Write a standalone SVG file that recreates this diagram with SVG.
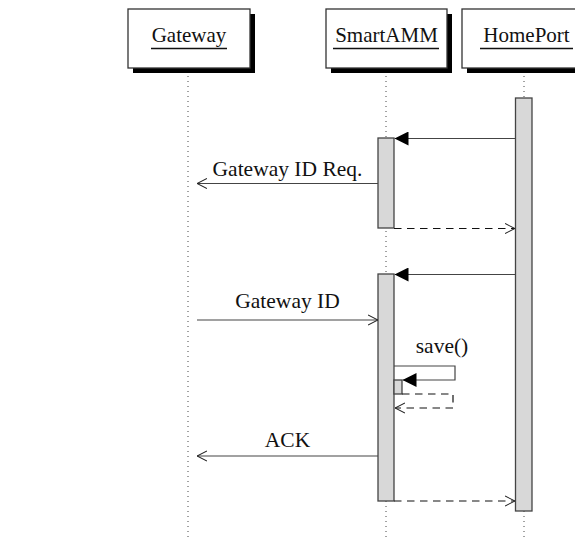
<svg xmlns="http://www.w3.org/2000/svg" width="575" height="539" viewBox="0 0 575 539">
<defs>
<marker id="filled" viewBox="0 0 14 14" refX="14" refY="7" markerWidth="14" markerHeight="14" markerUnits="userSpaceOnUse" orient="auto">
<path d="M0,0 L14,7 L0,14 Z" fill="#000"/>
</marker>
<marker id="open" viewBox="0 0 10 12" refX="10" refY="6" markerWidth="10" markerHeight="12" markerUnits="userSpaceOnUse" orient="auto">
<path d="M0,1 L10,6 L0,11" fill="none" stroke="#222" stroke-width="1.1"/>
</marker>
</defs>
<style>
.box{fill:#fff;stroke:#333;stroke-width:1.3}
.shadow{fill:#000}
.title{font-family:"Liberation Serif","Times New Roman",serif;font-size:21px;fill:#111;text-anchor:middle}
.ul{stroke:#111;stroke-width:1.3}
.life{stroke:#444;stroke-width:1;stroke-dasharray:1 4;fill:none}
.act{fill:#d8d8d8;stroke:#444;stroke-width:1.3}
.msg{stroke:#444;stroke-width:1.2;fill:none}
.ret{stroke:#111;stroke-width:1.2;fill:none;stroke-dasharray:7.5 5.5}
.lbl{font-family:"Liberation Serif","Times New Roman",serif;font-size:21.5px;fill:#111;text-anchor:middle}
</style>
<g id="lifelines">
<line class="life" x1="188" y1="76" x2="188" y2="539"/>
<line class="life" x1="386" y1="76" x2="386" y2="539"/>
<line class="life" x1="524" y1="76" x2="524" y2="539"/>
</g>
<g id="gateway">
<rect class="shadow" x="133" y="14" width="122" height="59"/>
<rect class="box" x="128" y="9" width="122" height="59"/>
<text class="title" x="189" y="42">Gateway</text>
<line class="ul" x1="151" y1="48.5" x2="227" y2="48.5"/>
</g>
<g id="smartamm">
<rect class="shadow" x="331" y="14" width="121" height="59"/>
<rect class="box" x="326" y="9" width="121" height="59"/>
<text class="title" x="386.5" y="42">SmartAMM</text>
<line class="ul" x1="333" y1="48.5" x2="439" y2="48.5"/>
</g>
<g id="homeport">
<rect class="shadow" x="467" y="14" width="124" height="59"/>
<rect class="box" x="462" y="9" width="124" height="59"/>
<text class="title" x="526.5" y="42">HomePort</text>
<line class="ul" x1="480" y1="48.5" x2="573" y2="48.5"/>
</g>
<g id="activations">
<rect class="act" x="515.5" y="98" width="16.5" height="413"/>
<rect class="act" x="378" y="138" width="16" height="90"/>
<rect class="act" x="378" y="274" width="16" height="227"/>
<rect class="act" x="394" y="380" width="8" height="14"/>
</g>
<g id="connectors">
<line class="msg" x1="515.5" y1="138.5" x2="394.5" y2="138.5" marker-end="url(#filled)"/>
<line class="msg" x1="378" y1="183.5" x2="197" y2="183.5" marker-end="url(#open)"/>
<line class="ret" x1="394" y1="228.5" x2="515" y2="228.5" marker-end="url(#open)"/>
<line class="msg" x1="515.5" y1="274.5" x2="394.5" y2="274.5" marker-end="url(#filled)"/>
<line class="msg" x1="197" y1="320" x2="378" y2="320" marker-end="url(#open)"/>
<path class="msg" d="M394,366 H455 V380 H402.5" marker-end="url(#filled)"/>
<path class="ret" d="M402,394 H453 V408 H395" marker-end="url(#open)"/>
<line class="msg" x1="378" y1="456" x2="197" y2="456" marker-end="url(#open)"/>
<line class="ret" x1="394" y1="501" x2="515" y2="501" marker-end="url(#open)"/>
</g>
<g id="labels">
<text class="lbl" x="287.5" y="176">Gateway ID Req.</text>
<text class="lbl" x="287.5" y="308">Gateway ID</text>
<text class="lbl" x="442" y="353">save()</text>
<text class="lbl" x="287.5" y="447">ACK</text>
</g>
</svg>
